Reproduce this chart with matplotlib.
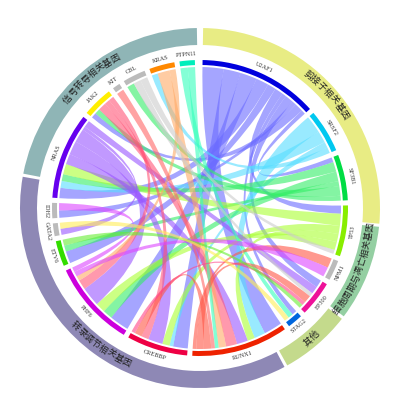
import numpy as np
import matplotlib
matplotlib.use("Agg")
import matplotlib.pyplot as plt
from matplotlib.path import Path
from matplotlib.patches import PathPatch, Wedge

plt.rcParams['font.family'] = ['Noto Sans CJK SC', 'DejaVu Sans']

genes = ["U2AF1","SRSF2","SF3B1","TP53","NPM1","EP300","STAG2","RUNX1","CREBBP",
         "PHF6","ETV6","GATA2","IDH2","NRAS","JAK2","KIT","CBL","KRAS","PTPN11"]
gene_sizes = [47,17,18,20,8,14,6,38,24,34,10,5,6,34,12,3,9,10,6]
gene_colors = ["#0000dd","#00c8f0","#00dd44","#88ee00","#bbbbbb","#ee1199","#0066dd",
               "#ee2200","#ee0044","#cc00dd","#33dd00","#bbbbbb","#bbbbbb","#6600ee",
               "#ffee00","#bbbbbb","#bbbbbb","#ff8800","#00eebb"]
chord_colors = {"U2AF1":"#6a6aff","SRSF2":"#55ddff","SF3B1":"#33ee66","TP53":"#aaff33",
                "NRAS":"#9955ff","JAK2":"#ff5577","KRAS":"#ffaa66","PTPN11":"#33ffbb",
                "CBL":"#cccccc","KIT":"#ff6666","RUNX1":"#ff5544","CREBBP":"#ff4488",
                "PHF6":"#dd44ff","EP300":"#ff44bb","ETV6":"#66ee33","IDH2":"#ff6699",
                "GATA2":"#ffee55","STAG2":"#3399ff","NPM1":"#aaaaaa"}

groups = ["剪接子相关基因","细胞周期与凋亡相关基因","其他","转录调节相关基因","信号转导相关基因"]
group_spans = [(1,95),(96,127),(128,151),(152,280),(281,359)]
group_colors = ["#e8ec84","#94cfa2","#c4da8c","#8e88b5","#8fb5b6"]

links = [("U2AF1","RUNX1",5),("U2AF1","CREBBP",4),("U2AF1","PHF6",4),("U2AF1","NRAS",3),
         ("U2AF1","ETV6",2),("U2AF1","TP53",2),("U2AF1","STAG2",1),("U2AF1","EP300",2),
         ("U2AF1","IDH2",1),("U2AF1","JAK2",2),("U2AF1","SF3B1",1),
         ("SRSF2","RUNX1",3),("SRSF2","NRAS",2),("SRSF2","CREBBP",1),("SRSF2","KRAS",1),
         ("SF3B1","NRAS",2),("SF3B1","PHF6",2),("SF3B1","ETV6",1),("SF3B1","JAK2",2),("SF3B1","CBL",1),
         ("TP53","NRAS",3),("TP53","CREBBP",2),("TP53","RUNX1",2),("TP53","PHF6",2),
         ("NRAS","RUNX1",3),("NRAS","CREBBP",4),("NRAS","PHF6",4),("NRAS","GATA2",1),("NRAS","EP300",2),
         ("JAK2","RUNX1",3),("JAK2","CREBBP",2),("JAK2","PHF6",2),
         ("KRAS","RUNX1",2),("KRAS","PHF6",1),("PTPN11","STAG2",1),("PTPN11","RUNX1",1),
         ("CBL","EP300",1),("CBL","TP53",1),("KIT","RUNX1",1),
         ("RUNX1","CREBBP",2),("RUNX1","EP300",2),("RUNX1","NPM1",1),("PHF6","NPM1",1),
         ("CREBBP","EP300",1),("PHF6","IDH2",1),("ETV6","EP300",1),("GATA2","STAG2",1)]

gap = 2.0
starts = {}
a = 1.0
for g, s in zip(genes, gene_sizes):
    starts[g] = (a, a + s)
    a += s + gap

tot = {g: 0 for g in genes}
for x, y, w in links:
    tot[x] += w; tot[y] += w
cursor = {g: starts[g][0] for g in genes}

def take(g, w):
    s0, s1 = starts[g]
    width = w / tot[g] * (s1 - s0)
    a0 = cursor[g]; cursor[g] += width
    return a0, a0 + width

def pt(theta, r):
    t = np.deg2rad(90 - theta)
    return r * np.cos(t), r * np.sin(t)

def arcpts(t0, t1, r, n=20):
    return [pt(t, r) for t in np.linspace(t0, t1, n)]

fig = plt.figure(figsize=(4, 4), dpi=100)
ax = fig.add_axes([0, 0, 1, 1])
ax.set_xlim(-200, 200); ax.set_ylim(-192, 208)
ax.set_aspect('equal'); ax.axis('off')

R = 141
for x, y, w in links:
    a0, a1 = take(x, w)
    b0, b1 = take(y, w)
    verts = arcpts(a0, a1, R)
    codes = [Path.MOVETO] + [Path.LINETO] * (len(verts) - 1)
    verts += [(0, 0), pt(b0, R)]; codes += [Path.CURVE3, Path.CURVE3]
    bp = arcpts(b0, b1, R)[1:]
    verts += bp; codes += [Path.LINETO] * len(bp)
    verts += [(0, 0), pt(a0, R)]; codes += [Path.CURVE3, Path.CURVE3]
    ax.add_patch(PathPatch(Path(verts, codes), facecolor=chord_colors[x],
                           edgecolor='none', alpha=0.6))

def bottom(theta):
    th = theta % 360
    return 90 < th < 270

def rot(theta):
    th = theta % 360
    return 180 - th if bottom(th) else -th

for g, c in zip(genes, gene_colors):
    s0, s1 = starts[g]
    ax.add_patch(Wedge((0, 0), 148, 90 - s1, 90 - s0, width=5, facecolor=c, edgecolor='none'))
    m = (s0 + s1) / 2
    ax.text(*pt(m, 154), g, rotation=rot(m), ha='center', va='center',
            fontsize=4.5, family='Liberation Serif', color='#333333')

Rg = 171.5
step = np.rad2deg(9.0 / Rg)
for name, (s0, s1), c in zip(groups, group_spans, group_colors):
    ax.add_patch(Wedge((0, 0), 180, 90 - s1, 90 - s0, width=17, facecolor=c, edgecolor='none'))
    m = (s0 + s1) / 2
    n = len(name)
    offs = (np.arange(n) - (n - 1) / 2) * step
    if bottom(m):
        offs = -offs
    for ch, o in zip(name, offs):
        t = m + o
        ax.text(*pt(t, Rg), ch, rotation=rot(t), ha='center', va='center',
                fontsize=6.5, color='#222222')

fig.savefig("out.png", dpi=100)
